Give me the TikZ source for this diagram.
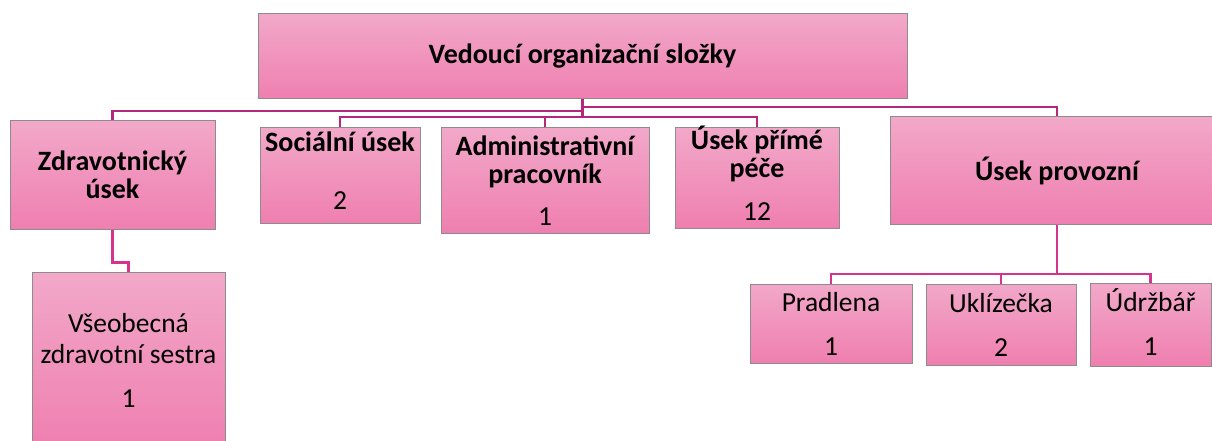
\documentclass[tikz,border=0pt]{standalone}
\usepackage{fontspec}
\setmainfont{Carlito}
\definecolor{boxtop}{HTML}{F2A8C9}
\definecolor{boxbot}{HTML}{EF7FB0}
\definecolor{boxline}{HTML}{8C8C8C}
\definecolor{connA}{HTML}{B3287C}
\definecolor{connB}{HTML}{D6338C}
\tikzset{
  orgbox/.style={draw=boxline, line width=1pt, top color=boxtop, bottom color=boxbot,
    inner sep=0pt, align=center, font=\fontsize{27.5}{28}\selectfont},
  conn/.style={draw=connA, line width=2.8pt},
  connb/.style={draw=connB, line width=2.8pt}
}
\newcommand{\hb}{\fontsize{28}{28}\selectfont\bfseries}
\begin{document}
\begin{tikzpicture}[x=1pt,y=-1pt]
\useasboundingbox (0,0) rectangle (1212,441);
\clip (0,0) rectangle (1212,441);
% boxes
\node[orgbox, minimum width=649pt, minimum height=85pt] (top) at (582.5,56.5) {\hb Vedoucí organizační složky};
\node[orgbox, minimum width=205pt, minimum height=108pt] (zdr) at (112.5,175) {\hb Zdravotnický\\\hb úsek};
\node[orgbox, minimum width=160pt, minimum height=95pt] (soc) at (340,175.5) {};
\node[align=center, inner sep=0pt, font=\fontsize{27.5}{28}\selectfont] (soct) at (340,171) {\hb Sociální úsek\\[30pt]2};
\node[orgbox, minimum width=208pt, minimum height=105pt] (adm) at (545,180.5) {\hb Administrativní\\\hb pracovník\\[14pt]1};
\node[orgbox, minimum width=164pt, minimum height=100pt] (pri) at (757,178) {};
\node[align=center, inner sep=0pt, font=\fontsize{27.5}{28}\selectfont] (prit) at (757,173) {\hb Úsek přímé\\\hb péče\\[15pt]12};
\node[orgbox, minimum width=334pt, minimum height=107pt] (pro) at (1057,170.5) {\hb Úsek provozní};
\node[orgbox, minimum width=193pt, minimum height=176pt, font=\fontsize{27.5}{31}\selectfont] (vse) at (128.5,360) {Všeobecná\\zdravotní sestra\\[13pt]1};
\node[orgbox, minimum width=162pt, minimum height=79pt] (pra) at (831,323.5) {Pradlena\\[16pt]1};
\node[orgbox, minimum width=150pt, minimum height=81pt] (ukl) at (1001,324.5) {Uklízečka\\[16pt]2};
\node[orgbox, minimum width=121pt, minimum height=83pt] (udr) at (1150.5,324.5) {};
\node[align=center, inner sep=0pt, font=\fontsize{27.5}{28}\selectfont] (udrt) at (1150.5,322) {Údržbář\\[16pt]1};
% junctions
\coordinate (jR) at (582.5,107);
\coordinate (jL) at (582.5,111);
\coordinate (jM) at (582.5,117);
\coordinate (jB) at (1057,274);
% connectors
\draw[conn] (top.south) -- (jM);
\draw[conn] (jR) -| (pro.north);
\draw[conn] (jL) -| (zdr.north);
\draw[conn] (soc.north) |- (jM) -| (pri.north);
\draw[conn] (adm.north) -- (adm.north |- jM);
\draw[connb] (zdr.south) -- ++(0,33) -| (vse.north);
\draw[connb] (pro.south) -- (jB);
\draw[connb] (pra.north) |- (jB) -| (udr.north);
\draw[connb] (ukl.north) -- (ukl.north |- jB);
\end{tikzpicture}
\end{document}
